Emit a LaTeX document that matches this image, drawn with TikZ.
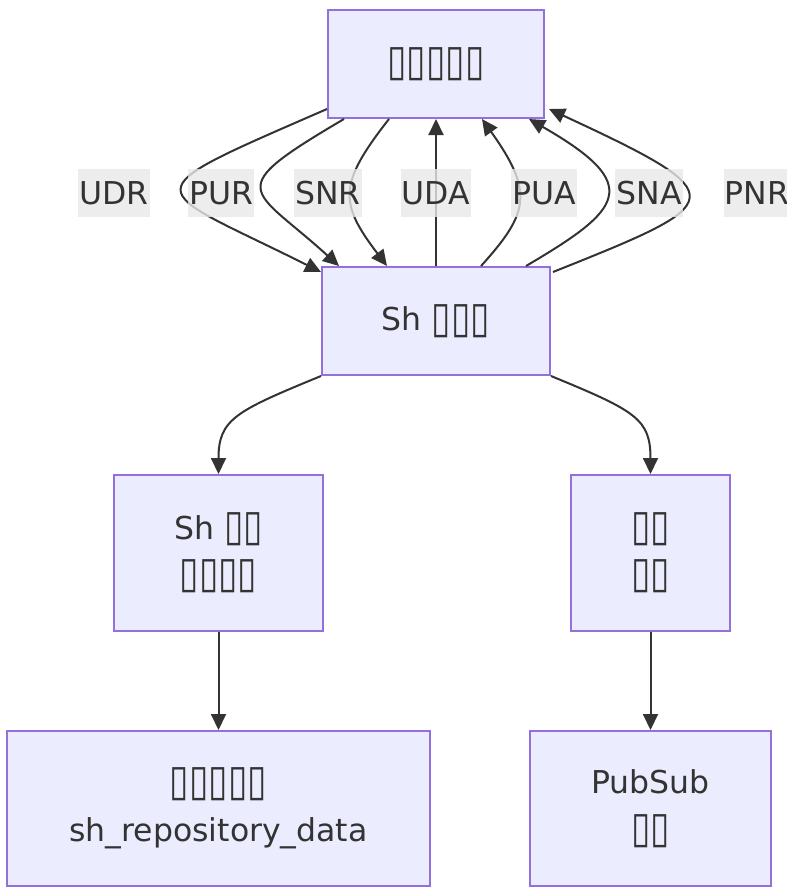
\documentclass[tikz,border=0pt]{standalone}
\usepackage{fontspec}
\setmainfont{DejaVu Sans}
\usetikzlibrary{arrows.meta,calc}
\definecolor{nf}{HTML}{ECECFF}
\definecolor{nb}{HTML}{9370DB}
\definecolor{ln}{HTML}{333333}
\definecolor{lb}{HTML}{E8E8E8}
\newcommand\tf{\raisebox{-1.5pt}{\scalebox{1.12}[1.38]{▯}}}
\begin{document}
\begin{tikzpicture}[x=1pt,y=-1pt,
  box/.style={draw=nb, fill=nf, line width=2pt, inner sep=0pt, align=center, text=ln, font=\fontsize{31.5}{47}\selectfont},
  edge/.style={draw=ln, line width=2pt, -{Triangle[length=16pt,width=15pt]}},
  lbl/.style={fill=lb, fill opacity=0.8, text opacity=1, text=ln, inner xsep=1pt, inner ysep=0pt, minimum height=48pt, font=\fontsize{31.5}{47}\selectfont}]
\useasboundingbox (0,0) rectangle (787,887);
\node[box, minimum width=216pt, minimum height=108pt] (A) at (436,64) {\tf\tf\tf\tf\tf};
\node[box, minimum width=228pt, minimum height=108pt] (B) at (436,321) {Sh \tf\tf\tf};
\node[box, minimum width=209pt, minimum height=156pt] (C) at (218.5,553) {Sh \tf\tf\\\tf\tf\tf\tf};
\node[box, minimum width=159pt, minimum height=156pt] (D) at (650.5,553) {\tf\tf\\\tf\tf};
\node[box, minimum width=423pt, minimum height=155pt] (E) at (218.5,808.5) {\tf\tf\tf\tf\tf\\sh\_repository\_data};
\node[box, minimum width=241pt, minimum height=155pt] (F) at (650.5,808.5) {PubSub\\\tf\tf};
% edges between A and B
\draw[edge] ($(A.south west)+(0,-10)$) .. controls +(-202,88) and +(-176,-88) .. ($(B.north west)+(0,6)$);
\draw[edge] ($(A.south west)+(17,0)$) .. controls +(-124,73) and +(-88,-80) .. ($(B.north west)+(18,0)$);
\draw[edge] ($(A.south west)+(62,0)$) .. controls +(-51,65) and +(-48,-63) .. ($(B.north west)+(66,0)$);
\draw[edge] (B.north) -- (A.south);
\draw[edge] ($(B.north west)+(160,0)$) .. controls +(48,-53) and +(52,73) .. ($(A.south west)+(155,0)$);
\draw[edge] ($(B.north west)+(205,0)$) .. controls +(97,-57) and +(115,66) .. ($(A.south west)+(202,0)$);
\draw[edge] ($(B.north east)+(2,6)$) .. controls +(175,-70) and +(190,88) .. ($(A.south east)+(4,-10)$);
% lower edges
\draw[edge] (B.south west) .. controls +(-85,35) and +(0,-55) .. (C.north);
\draw[edge] (B.south east) .. controls +(85,35) and +(0,-55) .. (D.north);
\draw[edge] (C.south) -- (E.north);
\draw[edge] (D.south) -- (F.north);
% labels
\node[lbl] (l1) at (114,193) {UDR};
\node[lbl] (l2) at (221,193) {PUR};
\node[lbl] (l3) at (328,193) {SNR};
\node[lbl] (l4) at (436,193) {UDA};
\node[lbl] (l5) at (544,193) {PUA};
\node[lbl] (l6) at (649,193) {SNA};
\node[lbl] (l7) at (757,193) {PNR};
\end{tikzpicture}
\end{document}
